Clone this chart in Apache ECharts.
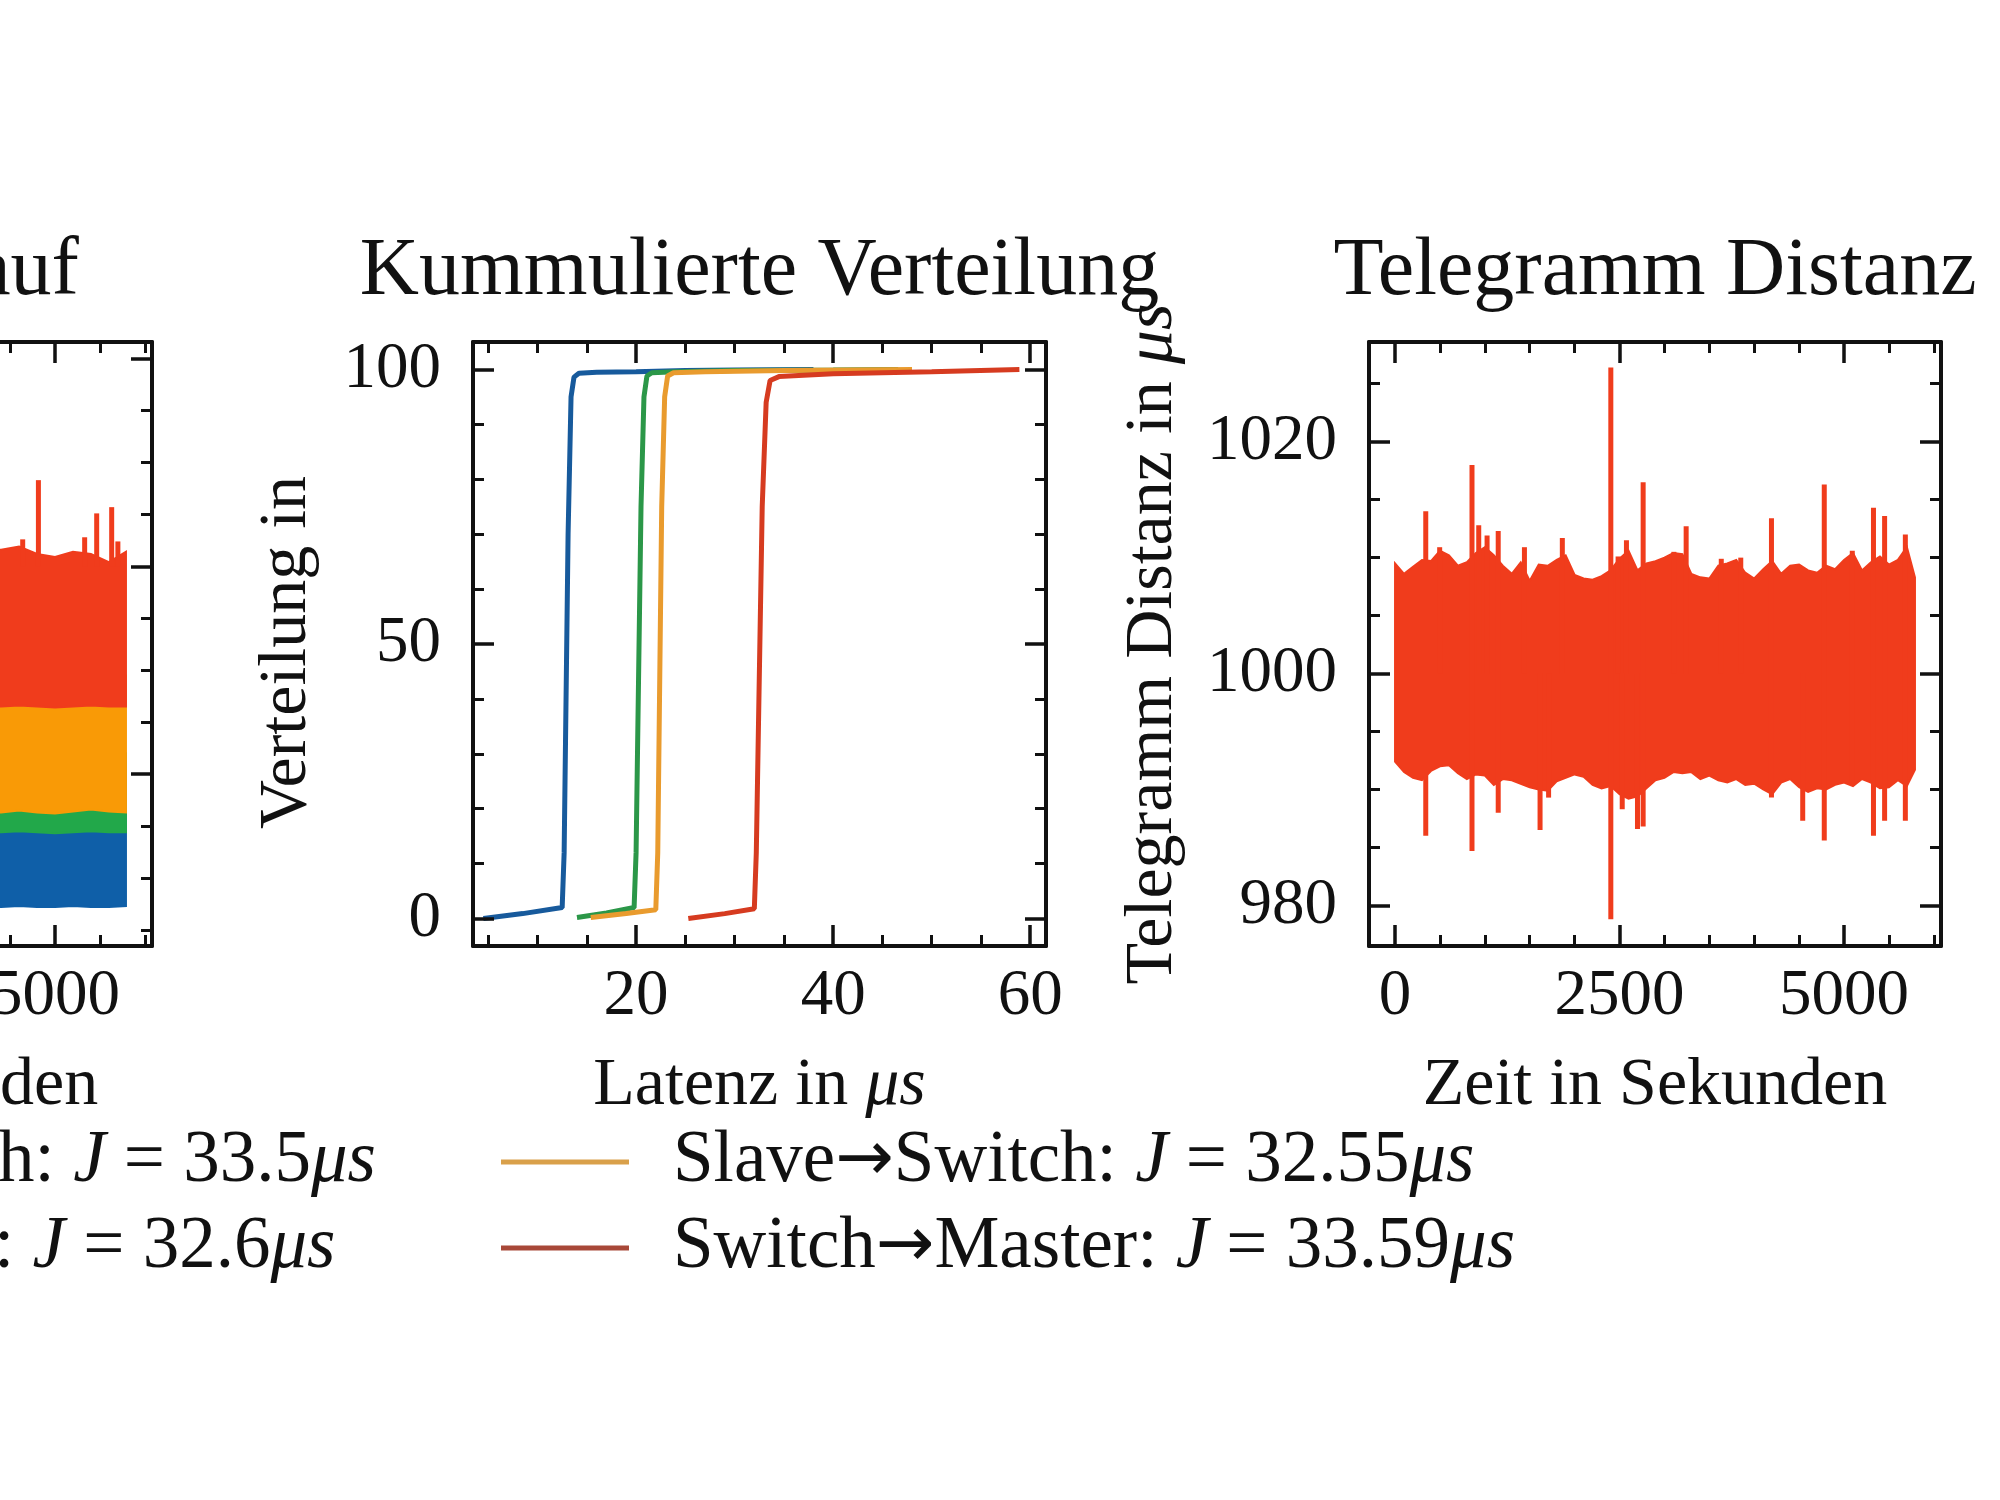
<!DOCTYPE html>
<html>
<head>
<meta charset="utf-8" />
<title>Latenz</title>
<script src="https://cdn.jsdelivr.net/npm/echarts@6.0.0/dist/echarts.min.js"></script>
<style>html, body { margin: 0; padding: 0; background: #fff; }</style>
</head>
<body>
<div id="main" style="width: 2000px;height: 1500px;"></div>
<script type="text/javascript">
const FONT = '"Liberation Serif", "DejaVu Serif", serif';
const INK = '#111111';

const LINKS = ['Master→Switch', 'Switch→Slave', 'Slave→Switch', 'Switch→Master'];
const JITTER = [33.5, 32.6, 32.55, 33.59];
const FILL = ['#0F5FA8', '#22A84A', '#F99A06', '#F03C1C'];
const LINE = ['#175A9C', '#2B9748', '#E99B2E', '#D63B20'];
const HANDLE = ['#2A5F98', '#3A9450', '#D9A04A', '#A84838'];
const TITLES = ['Jitter Verlauf', 'Kummulierte Verteilung', 'Telegramm Distanz'];

// left panel: latency over time, visible band edges (µs)
const verlaufT = [0, 400, 800, 1200, 1600, 2000, 2400, 2800, 3200, 3600, 4000, 4400, 4600, 4800, 5000, 5200, 5400, 5600, 5790];
const blueLo = [7.4, 7.2, 7.3, 7.2, 7.3, 7.2, 7.3, 7.2, 7.2, 7.3, 7.2, 7.2, 7.3, 7.2, 7.2, 7.3, 7.2, 7.2, 7.3];
const blueHi = [18.5, 18.4, 18.6, 18.5, 18.4, 18.5, 18.6, 18.5, 18.4, 18.5, 18.5, 18.6, 18.4, 18.5, 18.5, 18.4, 18.6, 18.5, 18.5];
const greenLo = [14.4, 14.5, 14.3, 14.4, 14.5, 14.4, 14.3, 14.4, 14.5, 14.4, 14.3, 14.4, 14.5, 14.4, 14.3, 14.4, 14.5, 14.4, 14.4];
const greenHi = [22.0, 22.1, 21.9, 22.0, 22.0, 22.1, 22.0, 21.9, 22.0, 22.0, 22.1, 22.0, 22.0, 21.9, 22.0, 22.0, 22.1, 22.0, 22.0];
const orangeLo = [16.3, 16.4, 16.2, 16.3, 16.5, 16.3, 16.2, 16.4, 16.3, 16.2, 16.4, 16.3, 16.5, 16.3, 16.2, 16.4, 16.6, 16.4, 16.3];
const orangeHi = [29.5, 29.4, 29.6, 29.5, 29.5, 29.4, 29.6, 29.5, 29.5, 29.6, 29.4, 29.5, 29.5, 29.6, 29.5, 29.4, 29.5, 29.5, 29.5];
const redLo = [26.6, 26.5, 26.6, 26.5, 26.5, 26.6, 26.5, 26.4, 26.5, 26.6, 26.5, 26.5, 26.6, 26.5, 26.4, 26.5, 26.6, 26.5, 26.5];
const redHi = [41.5, 41.0, 41.8, 40.9, 41.3, 41.6, 41.0, 41.4, 40.8, 41.2, 41.5, 41.6, 41.9, 41.2, 40.9, 41.4, 41.2, 40.4, 41.4];
const verlaufSpikeT = [4640, 4815, 5330, 5464, 5631, 5700];
const verlaufSpikeHi = [42.6, 48.3, 42.8, 45.1, 45.7, 42.4];

// middle panel: cumulative distribution (latency µs -> %)
const cdfMsX = [4.5, 8.5, 12.5, 12.7, 13.1, 13.4, 13.7, 14.2, 16, 20, 25, 30, 38.0];
const cdfMsY = [0, 0.9, 2.0, 12, 70, 95, 98.6, 99.3, 99.5, 99.6, 99.8, 99.9, 100];
const cdfSsX = [14.0, 17, 19.8, 20.0, 20.5, 20.8, 21.1, 21.6, 24, 30, 40, 46.6];
const cdfSsY = [0.2, 1.0, 2.0, 12, 75, 95, 98.8, 99.4, 99.6, 99.8, 99.9, 100];
const cdfSwX = [15.4, 19, 22.0, 22.2, 22.6, 22.9, 23.2, 23.8, 27, 35, 48.0];
const cdfSwY = [0.2, 0.9, 1.6, 12, 75, 95, 98.8, 99.4, 99.6, 99.8, 100];
const cdfSmX = [25.3, 29, 32.0, 32.2, 32.8, 33.2, 33.6, 34.5, 40, 50, 58.9];
const cdfSmY = [0, 0.9, 1.8, 12, 75, 94, 98.0, 98.7, 99.2, 99.6, 100];

// right panel: telegram distance (µs), band edges every 100 s and single outliers
const distT = [0, 100, 200, 300, 400, 500, 600, 700, 800, 900,
    1000, 1100, 1200, 1300, 1400, 1500, 1600, 1700, 1800, 1900,
    2000, 2100, 2200, 2300, 2400, 2500, 2600, 2700, 2800, 2900,
    3000, 3100, 3200, 3300, 3400, 3500, 3600, 3700, 3800, 3900,
    4000, 4100, 4200, 4300, 4400, 4500, 4600, 4700, 4800, 4900,
    5000, 5100, 5200, 5300, 5400, 5500, 5600, 5700, 5790];
const distHi = [1009.5, 1008.6, 1009.2, 1009.8, 1009.7, 1010.6, 1010.2, 1009.3, 1009.6, 1010.4,
    1010.9, 1010.2, 1009.3, 1008.6, 1009.6, 1008.0, 1009.4, 1009.3, 1009.8, 1010.2,
    1008.5, 1008.2, 1008.1, 1008.4, 1008.9, 1009.9, 1010.6, 1008.9, 1009.5, 1009.7,
    1010.0, 1010.4, 1010.3, 1008.6, 1008.3, 1008.2, 1009.3, 1009.5, 1009.8, 1008.7,
    1008.2, 1009.0, 1009.7, 1008.6, 1009.3, 1009.4, 1008.9, 1008.7, 1009.3, 1009.0,
    1009.8, 1010.4, 1008.9, 1009.6, 1010.1, 1009.4, 1009.8, 1010.9, 1008.3];
const distLo = [992.4, 991.5, 991.0, 990.8, 991.6, 992.0, 992.1, 991.4, 990.9, 991.3,
    991.2, 990.4, 990.9, 990.8, 990.5, 990.2, 990.0, 989.9, 990.7, 991.0,
    991.3, 991.1, 990.4, 990.1, 990.3, 989.6, 989.2, 989.4, 990.1, 990.8,
    991.0, 991.5, 991.4, 991.5, 990.9, 991.2, 990.8, 990.6, 990.9, 990.4,
    990.5, 990.0, 989.6, 990.6, 990.9, 990.2, 989.8, 990.1, 990.0, 990.4,
    990.6, 990.3, 990.9, 990.6, 990.1, 990.2, 990.8, 990.3, 991.7];
const spikeT = [342, 497, 857, 932, 1025, 1149, 1441, 1615, 1710, 1863, 2403, 2484, 2530, 2577, 2700, 2763, 3105, 3242, 3633, 3850, 4192, 4540, 4780, 5092, 5328, 5452, 5683];
const spikeLo = [986.0, 1000, 984.7, 1000, 1000, 988.0, 1000, 986.5, 989.3, 1000, 978.8, 1000, 988.3, 1000, 986.6, 986.8, 1000, 1000, 1000, 1000, 989.3, 987.3, 985.6, 990.4, 986.0, 987.3, 987.3];
const spikeHi = [1014.0, 1010.9, 1018.0, 1012.8, 1011.9, 1012.3, 1010.9, 1000, 1000, 1011.7, 1026.4, 1010.1, 1000, 1011.5, 1000, 1016.5, 1010.5, 1012.7, 1009.9, 1010.0, 1013.4, 1000, 1016.3, 1010.6, 1014.3, 1013.6, 1012.0];

const GRIDS = [
    { left: -420, top: 342, width: 572, height: 604 },
    { left: 473, top: 342, width: 573, height: 604 },
    { left: 1369, top: 342, width: 572, height: 604 }
];

const rich = { i: { fontStyle: 'italic', fontFamily: FONT, fontSize: 68, color: INK } };

// major + minor tick axes on both sides of one grid
function boxAxes(dim, gridIndex, range, majors, minors, labelOpt, nameOpt) {
    const sides = dim === 'x' ? ['bottom', 'top'] : ['left', 'right'];
    const axes = [];
    sides.forEach((position, k) => {
        const base = {
            type: 'value', gridIndex, position, min: range[0], max: range[1], z: 10,
            splitLine: { show: false }
        };
        axes.push(Object.assign({}, base, {
            axisLine: { show: true, onZero: false, lineStyle: { color: INK, width: 4 } },
            axisTick: { show: true, inside: true, length: 21, customValues: majors, lineStyle: { color: INK, width: 3.5 } },
            axisLabel: k === 0
                ? Object.assign({ show: true, customValues: majors, fontFamily: FONT, fontSize: 65, color: INK, formatter: v => String(v) }, labelOpt)
                : { show: false }
        }, k === 0 ? nameOpt : {}));
        axes.push(Object.assign({}, base, {
            axisLine: { show: false, onZero: false },
            axisTick: { show: true, inside: true, length: 11, customValues: minors, lineStyle: { color: INK, width: 3 } },
            axisLabel: { show: false }
        }));
    });
    return axes;
}

function axisName(text, gap) {
    return {
        name: text, nameLocation: 'middle', nameGap: gap,
        nameTextStyle: { fontFamily: FONT, fontSize: 68, color: INK, rich: rich }
    };
}

const timeRange = [-290, 6080];
const timeMajors = [0, 2500, 5000];
const timeMinors = [500, 1000, 1500, 2000, 3000, 3500, 4000, 4500, 5500, 6000];
const latRange = [3.45, 61.6];
const latMajors = [20, 40, 60];
const latMinors = [5, 10, 15, 25, 30, 35, 45, 50, 55];

const xAxes = [].concat(
    boxAxes('x', 0, timeRange, timeMajors, timeMinors, { margin: 18 }, axisName('Zeit in Sekunden', 106)),
    boxAxes('x', 1, latRange, latMajors, latMinors, { margin: 18 }, axisName('Latenz in {i|μs}', 106)),
    boxAxes('x', 2, timeRange, timeMajors, timeMinors, { margin: 18 }, axisName('Zeit in Sekunden', 106))
);
const yAxes = [].concat(
    boxAxes('y', 0, latRange, latMajors, latMinors, { margin: 32 }, axisName('Latenz in {i|μs}', 152)),
    boxAxes('y', 1, [-5, 105], [0, 50, 100], [10, 20, 30, 40, 60, 70, 80, 90], { margin: 32 }, axisName('Verteilung in ', 152)),
    boxAxes('y', 2, [976.5, 1028.6], [980, 1000, 1020], [985, 990, 995, 1005, 1010, 1015, 1025], { margin: 32 }, axisName('Telegramm Distanz in {i|μs}', 182))
);

function bandSeries(gi, ts, lo, hi, color, z) {
    return {
        type: 'custom', coordinateSystem: 'cartesian2d', xAxisIndex: gi * 4, yAxisIndex: gi * 4, z: z, silent: true,
        data: ts.map((t, i) => [t, lo[i], hi[i]]),
        encode: { x: 0, y: [1, 2] },
        renderItem: (params, api) => {
            if (params.dataIndex !== 0) return null;
            const upper = ts.map((t, i) => api.coord([t, hi[i]]));
            const lower = ts.map((t, i) => api.coord([t, lo[i]])).reverse();
            return { type: 'polygon', shape: { points: upper.concat(lower) }, style: { fill: color, stroke: color, lineWidth: 2 } };
        }
    };
}

function spikeSeries(gi, ts, lo, hi, color, width, z) {
    return {
        type: 'custom', coordinateSystem: 'cartesian2d', xAxisIndex: gi * 4, yAxisIndex: gi * 4, z: z, silent: true,
        data: ts.map((t, i) => [t, lo[i], hi[i]]),
        encode: { x: 0, y: [1, 2] },
        renderItem: (params, api) => {
            const a = api.coord([api.value(0), api.value(1)]);
            const b = api.coord([api.value(0), api.value(2)]);
            return { type: 'line', shape: { x1: a[0], y1: a[1], x2: b[0], y2: b[1] }, style: { stroke: color, lineWidth: width } };
        }
    };
}

function cdfSeries(i, xs, ys) {
    return {
        type: 'line', name: LINKS[i], xAxisIndex: 4, yAxisIndex: 4, z: 3 + i,
        data: xs.map((x, j) => [x, ys[j]]),
        showSymbol: false, symbol: 'none', silent: true,
        lineStyle: { color: LINE[i], width: 5 },
        itemStyle: { color: LINE[i] }
    };
}

const verlaufSpikeLo = verlaufSpikeT.map(() => 40);

const series = [
    bandSeries(0, verlaufT, blueLo, blueHi, FILL[0], 2),
    bandSeries(0, verlaufT, greenLo, greenHi, FILL[1], 3),
    bandSeries(0, verlaufT, orangeLo, orangeHi, FILL[2], 4),
    bandSeries(0, verlaufT, redLo, redHi, FILL[3], 5),
    spikeSeries(0, verlaufSpikeT, verlaufSpikeLo, verlaufSpikeHi, FILL[3], 5, 6),
    cdfSeries(0, cdfMsX, cdfMsY),
    cdfSeries(1, cdfSsX, cdfSsY),
    cdfSeries(2, cdfSwX, cdfSwY),
    cdfSeries(3, cdfSmX, cdfSmY),
    bandSeries(2, distT, distLo, distHi, FILL[3], 2),
    spikeSeries(2, spikeT, spikeLo, spikeHi, FILL[3], 5, 3)
];

function legendBlock(idx, pos) {
    return Object.assign({
        orient: 'vertical', top: 1122, padding: 0, itemGap: 6, align: 'left',
        itemWidth: 128, itemHeight: 5, icon: 'rect', selectedMode: false,
        data: idx.map(i => ({ name: LINKS[i], itemStyle: { color: HANDLE[i] } })),
        formatter: name => `${name.replace('→', '{a|→}')}: {i|J} = ${JITTER[LINKS.indexOf(name)]}{i|μs}`,
        textStyle: {
            fontFamily: FONT, fontSize: 73, color: INK, lineHeight: 80, padding: [0, 0, 0, 39],
            rich: {
                i: { fontStyle: 'italic', fontFamily: FONT, fontSize: 73, lineHeight: 80, color: INK },
                a: { fontFamily: '"DejaVu Sans"', fontSize: 70, lineHeight: 80, color: INK }
            }
        }
    }, pos);
}

const option = {
    animation: false,
    backgroundColor: '#ffffff',
    grid: GRIDS.map(g => Object.assign({ containLabel: false, outerBoundsMode: 'none' }, g)),
    xAxis: xAxes,
    yAxis: yAxes,
    series: series,
    legend: [
        legendBlock([0, 1], { right: 2000 - 376 }),
        legendBlock([2, 3], { left: 501 })
    ],
    graphic: TITLES.map((t, i) => ({
        type: 'text',
        x: GRIDS[i].left + GRIDS[i].width / 2,
        y: 272,
        silent: true,
        style: { text: t, font: '82px "Liberation Serif"', fill: INK, align: 'center', verticalAlign: 'middle' }
    }))
};

const myChart = echarts.init(document.getElementById('main'));
myChart.setOption(option);
</script>
</body>
</html>
